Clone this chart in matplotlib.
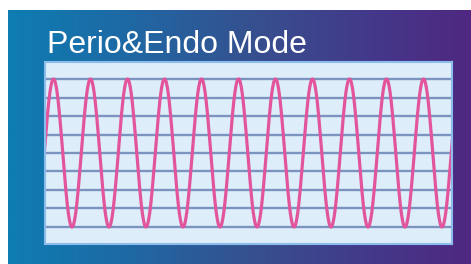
import numpy as np
import matplotlib
matplotlib.use("Agg")
import matplotlib.pyplot as plt
from matplotlib.colors import LinearSegmentedColormap

# ---- data ----
title_text = "Perio&Endo Mode"
# wave extrema (x in cycles across the panel, y = amplitude)
peak_x = [0.23, 1.23, 2.23, 3.23, 4.23, 5.23, 6.23, 7.23, 8.23, 9.23, 10.23, 11.23]
trough_x = [-0.27, 0.73, 1.73, 2.73, 3.73, 4.73, 5.73, 6.73, 7.73, 8.73, 9.73, 10.73]
peak_y = [1.0] * len(peak_x)
trough_y = [-1.0] * len(trough_x)
# horizontal guide lines
grid_levels = [-1.0, -0.75, -0.5, -0.25, 0.0, 0.25, 0.5, 0.75, 1.0]

W, H = 471, 264
fig = plt.figure(figsize=(W / 100, H / 100), dpi=100)
fig.patch.set_facecolor("white")

# background gradient (extends past the bottom and right edge of the figure)
bg = fig.add_axes([8 / W, -0.1, 1.05 - 8 / W, (H - 10) / H + 0.1])
cmap = LinearSegmentedColormap.from_list(
    "bg", ["#0e7db2", "#1f68a4", "#36508f", "#44388a", "#52247f"])
grad = np.tile(np.linspace(0, 1, 256), (64, 1))
bg.imshow(grad, aspect="auto", cmap=cmap, extent=[0, 1, 0, 1],
          interpolation="bilinear")
bg.set_xlim(0, 1)
bg.set_ylim(0, 1)
bg.set_axis_off()

fig.text(47 / W, 1 - 53 / H, title_text, color="white",
         fontsize=23, family="Liberation Sans", ha="left", va="baseline")

# panel
ax = fig.add_axes([45 / W, 20 / H, 407 / W, 182 / H])
ax.set_facecolor("#ddeefa")
for s in ax.spines.values():
    s.set_color("#8cbcea")
    s.set_linewidth(1.5)
ax.set_xticks([])
ax.set_yticks([])
ax.set_xlim(0, 11)
ax.set_ylim(-1.23, 1.23)

for lv in grid_levels:
    ax.axhline(lv, color="#7b93be", lw=1.7, zorder=1)

# wave through extrema, cosine easing between consecutive extrema
ex = sorted(zip(peak_x + trough_x, peak_y + trough_y))
xs, ys = [], []
for (x0, y0), (x1, y1) in zip(ex[:-1], ex[1:]):
    t = np.linspace(0, 1, 40)
    xs.append(x0 + (x1 - x0) * t)
    ys.append(y0 + (y1 - y0) * (1 - np.cos(np.pi * t)) / 2)
xs = np.concatenate(xs)
ys = np.concatenate(ys)
ax.plot(xs, ys, color="#e2559c", lw=2.3, zorder=2, solid_capstyle="round")

fig.savefig("out.png", dpi=100, facecolor="white")
